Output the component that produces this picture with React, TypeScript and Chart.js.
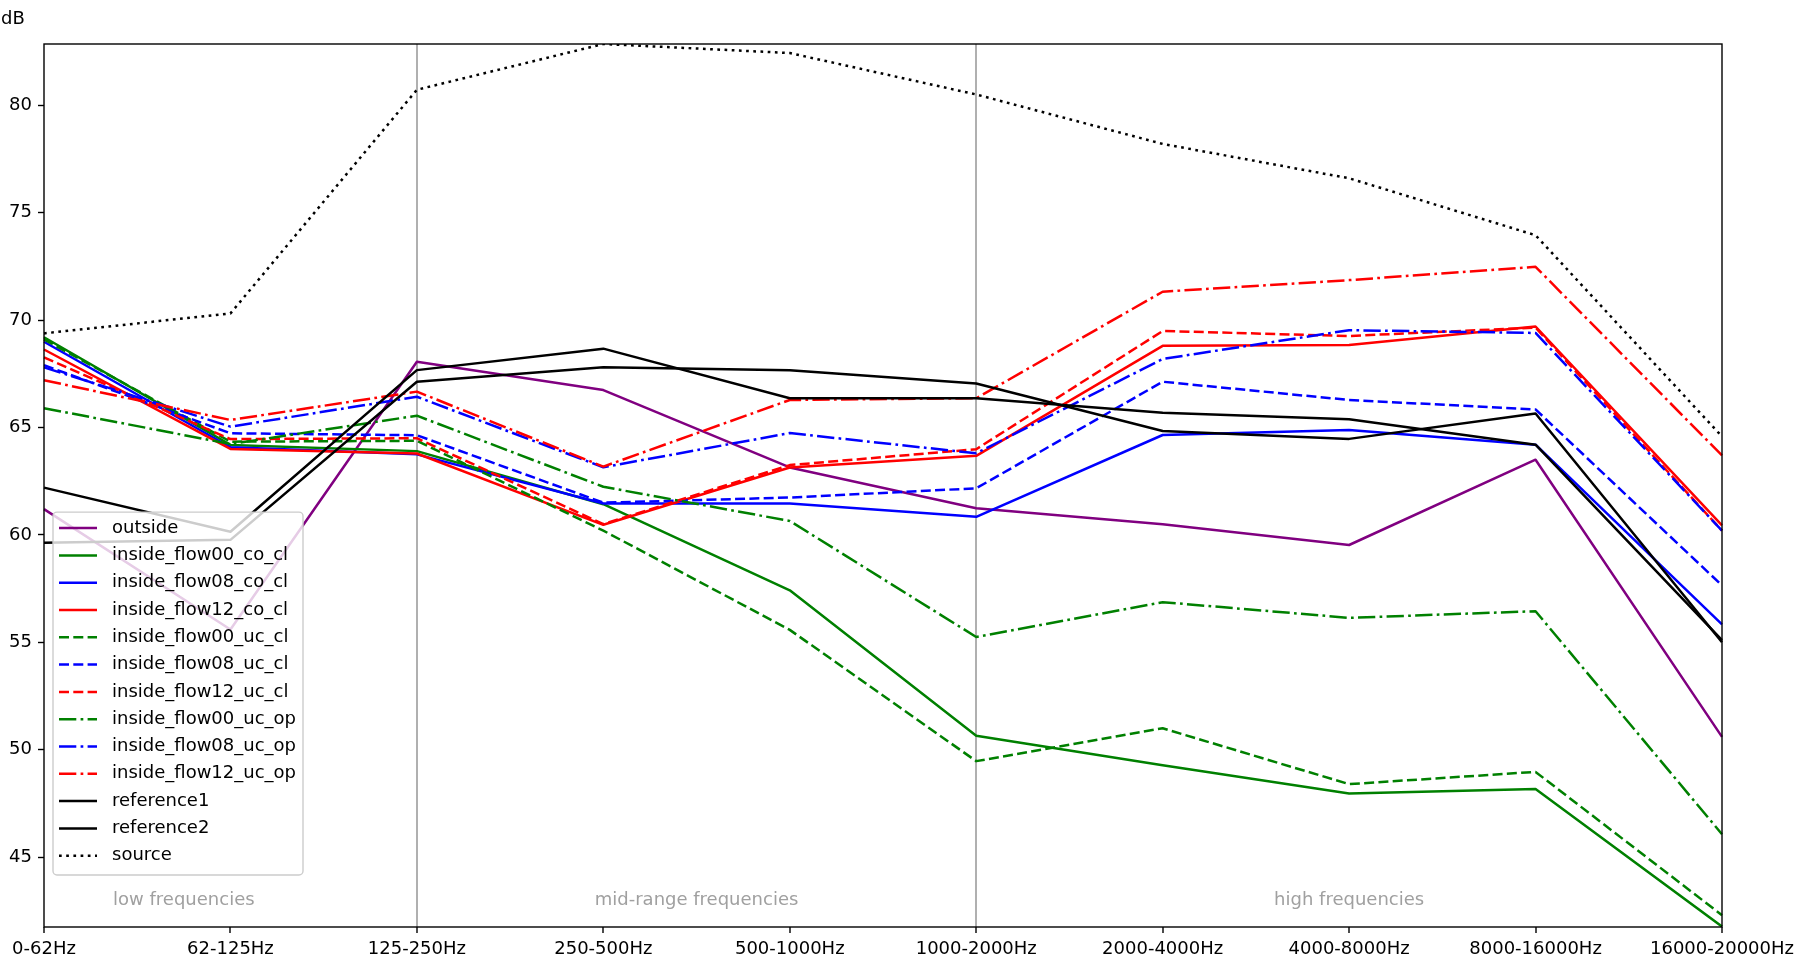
import { useEffect, useRef } from "react";
import { Chart, registerables } from "chart.js";

Chart.register(...registerables);

// frequency bands on the x axis
const bands = [
  "0-62Hz",
  "62-125Hz",
  "125-250Hz",
  "250-500Hz",
  "500-1000Hz",
  "1000-2000Hz",
  "2000-4000Hz",
  "4000-8000Hz",
  "8000-16000Hz",
  "16000-20000Hz",
];

// levels in dB, one value per band
const outside = [61.2, 55.6, 68.06, 66.74, 63.14, 61.24, 60.5, 59.53, 63.5, 50.6];
const flow00CoCl = [69.2, 64.19, 63.9, 61.43, 57.42, 50.65, 49.28, 47.96, 48.17, 41.77];
const flow08CoCl = [68.99, 64.08, 63.75, 61.46, 61.46, 60.84, 64.65, 64.88, 64.2, 55.84];
const flow12CoCl = [68.63, 64.0, 63.79, 60.47, 63.14, 63.68, 68.8, 68.84, 69.7, 60.44];
const flow00UcCl = [69.1, 64.34, 64.38, 60.2, 55.58, 49.47, 51.0, 48.4, 48.97, 42.3];
const flow08UcCl = [67.9, 64.73, 64.64, 61.5, 61.74, 62.17, 67.13, 66.28, 65.84, 57.65];
const flow12UcCl = [68.26, 64.46, 64.5, 60.5, 63.25, 63.99, 69.49, 69.26, 69.65, 60.2];
const flow00UcOp = [65.9, 64.23, 65.55, 62.24, 60.65, 55.25, 56.87, 56.14, 56.45, 46.07];
const flow08UcOp = [67.8, 65.04, 66.43, 63.15, 64.74, 63.8, 68.19, 69.53, 69.4, 60.2];
const flow12UcOp = [67.2, 65.35, 66.67, 63.18, 66.28, 66.36, 71.32, 71.86, 72.48, 63.7];
const reference1 = [62.2, 60.15, 67.67, 68.67, 66.36, 66.36, 65.69, 65.38, 64.2, 55.1];
const reference2 = [59.64, 59.77, 67.13, 67.8, 67.67, 67.05, 64.84, 64.47, 65.65, 55.0];
const source = [69.38, 70.31, 80.72, 82.85, 82.43, 80.5, 78.2, 76.6, 73.95, 64.58];

const yTicks = [45, 50, 55, 60, 65, 70, 75, 80];

// frequency regions: label, band position, level
const regionNames = ["low frequencies", "mid-range frequencies", "high frequencies"];
const regionAt = [0.75, 3.5, 7];
const regionLevel = 43;
const dividers = [2, 5];

const SOLID: number[] = [];
const DASHED = [10, 4.3];
const DASHDOT = [17.3, 4.3, 2.7, 4.3];
const DOTTED = [2.7, 4.5];

const series = [
  { label: "outside", data: outside, color: "#800080", dash: SOLID },
  { label: "inside_flow00_co_cl", data: flow00CoCl, color: "#008000", dash: SOLID },
  { label: "inside_flow08_co_cl", data: flow08CoCl, color: "#0000ff", dash: SOLID },
  { label: "inside_flow12_co_cl", data: flow12CoCl, color: "#ff0000", dash: SOLID },
  { label: "inside_flow00_uc_cl", data: flow00UcCl, color: "#008000", dash: DASHED },
  { label: "inside_flow08_uc_cl", data: flow08UcCl, color: "#0000ff", dash: DASHED },
  { label: "inside_flow12_uc_cl", data: flow12UcCl, color: "#ff0000", dash: DASHED },
  { label: "inside_flow00_uc_op", data: flow00UcOp, color: "#008000", dash: DASHDOT },
  { label: "inside_flow08_uc_op", data: flow08UcOp, color: "#0000ff", dash: DASHDOT },
  { label: "inside_flow12_uc_op", data: flow12UcOp, color: "#ff0000", dash: DASHDOT },
  { label: "reference1", data: reference1, color: "#000000", dash: SOLID },
  { label: "reference2", data: reference2, color: "#000000", dash: SOLID },
  { label: "source", data: source, color: "#000000", dash: DOTTED },
];

const FONT = "18px 'DejaVu Sans'";

// axes frame + region captions, above the lines
const framePlugin = {
  id: "frame",
  afterDatasetsDraw(chart: any) {
    const { ctx, chartArea, scales } = chart;
    ctx.save();
    ctx.font = FONT;
    ctx.fillStyle = "#a0a0a0";
    ctx.textAlign = "center";
    ctx.textBaseline = "middle";
    regionNames.forEach((name, i) => {
      ctx.fillText(name, scales.x.getPixelForValue(regionAt[i]), scales.y.getPixelForValue(regionLevel));
    });
    ctx.strokeStyle = "#000";
    ctx.lineWidth = 1.4;
    ctx.strokeRect(chartArea.left, chartArea.top, chartArea.right - chartArea.left, chartArea.bottom - chartArea.top);
    ctx.restore();
  },
};

// legend box inside the plot, plus the unit label
const insideLegend = {
  id: "insideLegend",
  afterDraw(chart: any) {
    const { ctx, chartArea } = chart;
    const rowH = 27.3;
    const n = chart.data.datasets.length;
    const x = chartArea.left + 9;
    const h = n * rowH + 8;
    const y = chartArea.bottom - 52 - h;
    ctx.save();
    ctx.beginPath();
    ctx.roundRect(x, y, 250, h, 4);
    ctx.fillStyle = "rgba(255,255,255,0.8)";
    ctx.fill();
    ctx.strokeStyle = "#cccccc";
    ctx.lineWidth = 1.4;
    ctx.stroke();
    ctx.font = FONT;
    ctx.textBaseline = "middle";
    ctx.textAlign = "left";
    chart.data.datasets.forEach((ds: any, i: number) => {
      const ry = y + 16 + i * rowH;
      ctx.beginPath();
      ctx.setLineDash(ds.borderDash || []);
      ctx.strokeStyle = ds.borderColor;
      ctx.lineWidth = ds.borderWidth;
      ctx.moveTo(x + 6, ry);
      ctx.lineTo(x + 44, ry);
      ctx.stroke();
      ctx.setLineDash([]);
      ctx.fillStyle = "#000";
      ctx.fillText(ds.label, x + 59, ry);
    });
    ctx.fillStyle = "#000";
    ctx.fillText("dB", 1, 19);
    ctx.restore();
  },
};

export default function App() {
  const canvasRef = useRef<HTMLCanvasElement>(null);

  useEffect(() => {
    if (!canvasRef.current) return;
    Chart.defaults.font.family = "'DejaVu Sans'";
    Chart.defaults.font.size = 18;
    Chart.defaults.color = "#000";

    const chart = new Chart(canvasRef.current, {
      type: "line",
      data: {
        labels: bands,
        datasets: series.map((s, i) => ({
          label: s.label,
          data: s.data,
          borderColor: s.color,
          backgroundColor: s.color,
          borderDash: s.dash,
          borderWidth: 2.5,
          borderJoinStyle: "round",
          pointRadius: 0,
          pointHoverRadius: 0,
          tension: 0,
          fill: false,
          order: series.length - i,
        })),
      },
      options: {
        animation: false,
        responsive: true,
        maintainAspectRatio: false,
        layout: { padding: { top: 44, right: 76, left: 0, bottom: 0 } },
        plugins: {
          legend: { display: false },
          tooltip: { enabled: false },
        },
        scales: {
          x: {
            type: "category",
            offset: false,
            border: { display: false },
            grid: {
              color: (c: any) => (dividers.includes(c.index) ? "#b0b0b0" : "rgba(0,0,0,0)"),
              lineWidth: 2,
              tickColor: "#000",
              tickWidth: 1.4,
              tickLength: 6,
            },
            ticks: { autoSkip: false, maxRotation: 0, minRotation: 0, padding: 6, color: "#000" },
            afterFit: (s: any) => {
              s.height = 36;
            },
          },
          y: {
            min: 41.75,
            max: 82.85,
            border: { display: false },
            grid: {
              drawOnChartArea: false,
              tickColor: "#000",
              tickWidth: 1.4,
              tickLength: 6,
            },
            ticks: { padding: 6, color: "#000" },
            afterBuildTicks: (s: any) => {
              s.ticks = yTicks.map((v) => ({ value: v }));
            },
            afterFit: (s: any) => {
              s.width = 44;
            },
          },
        },
      },
      plugins: [framePlugin, insideLegend],
    });

    return () => chart.destroy();
  }, []);

  return (
    <div style={{ position: "fixed", left: 0, top: 0, width: 1800, height: 963, background: "#fff" }}>
      <canvas ref={canvasRef} />
    </div>
  );
}
